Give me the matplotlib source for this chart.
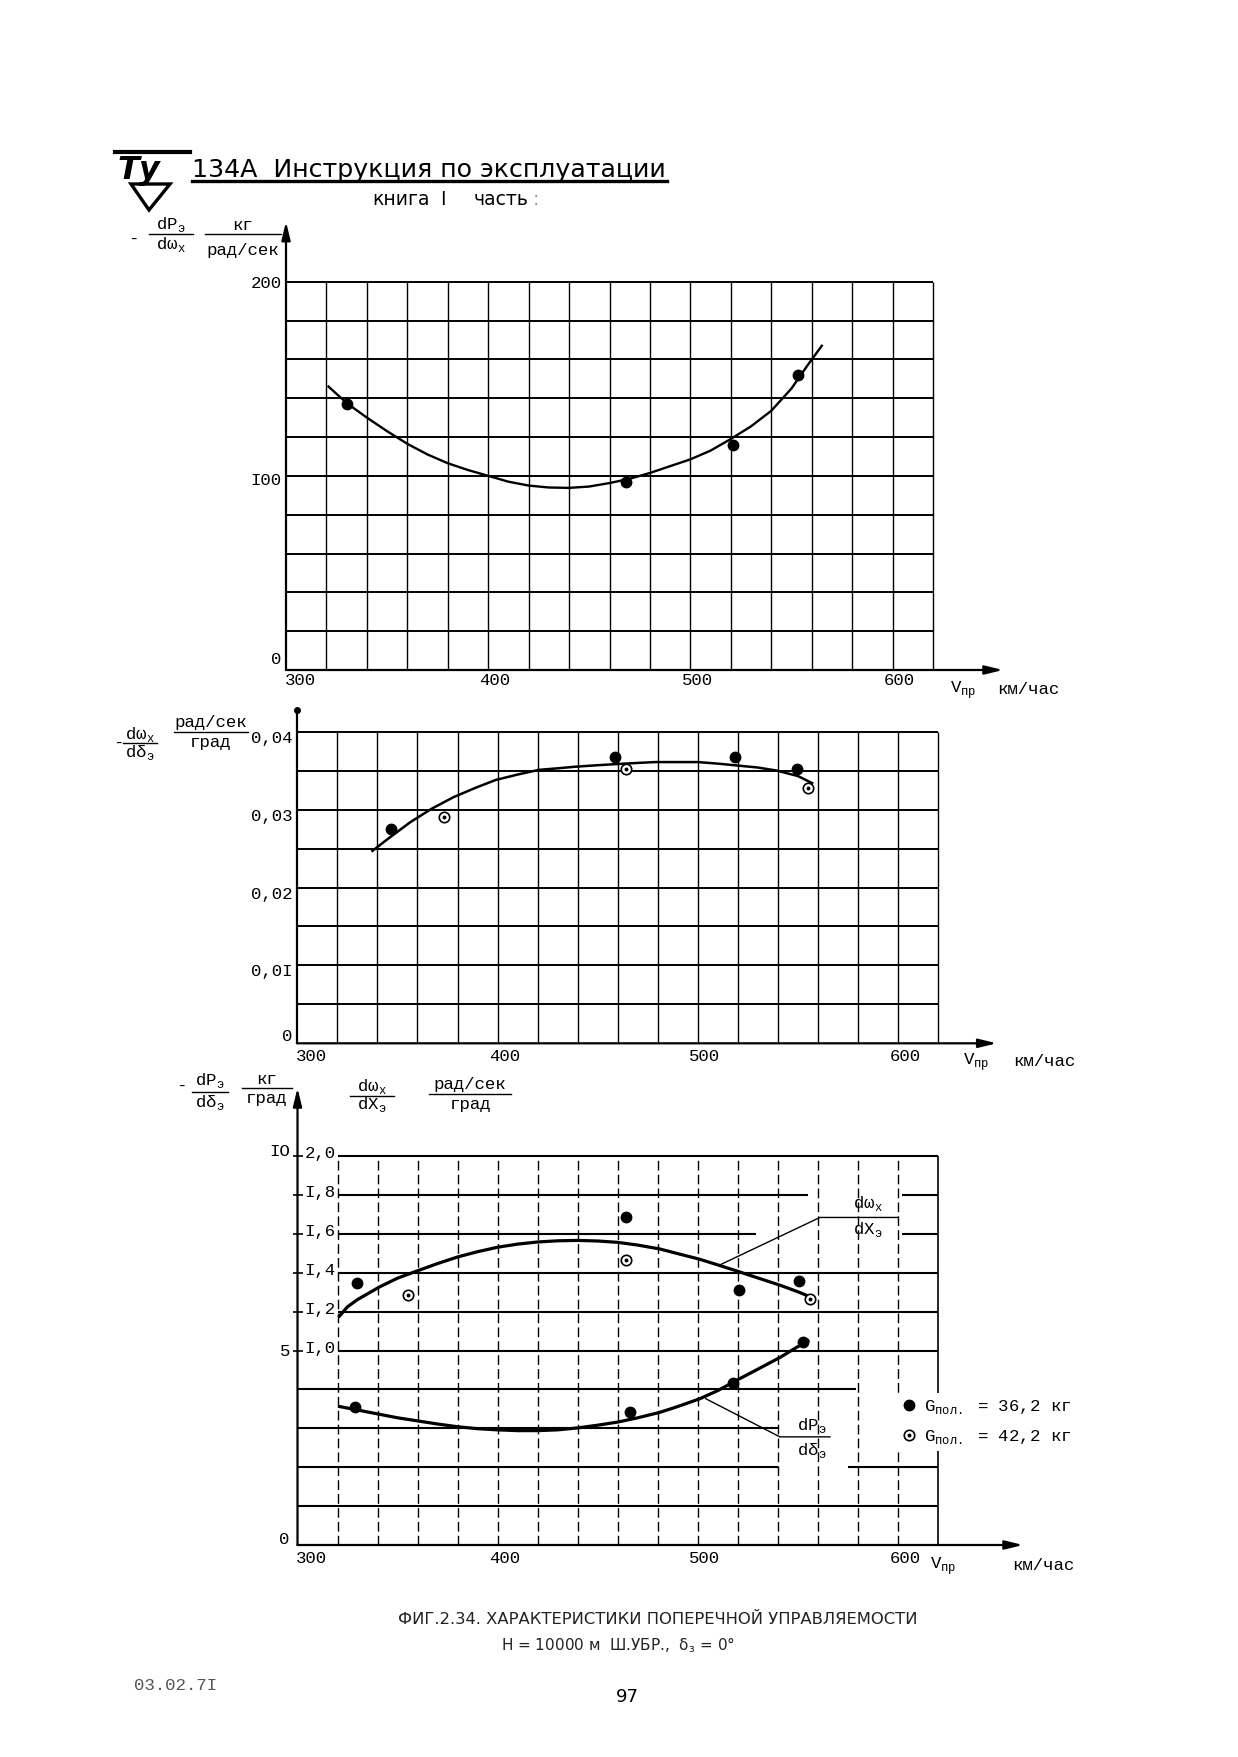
import numpy as np
import matplotlib
matplotlib.use('Agg')
import matplotlib.pyplot as plt
from matplotlib.lines import Line2D
from matplotlib.patches import Polygon
from matplotlib.transforms import ScaledTranslation
from matplotlib.legend_handler import HandlerTuple

W, H = 1238, 1757
MONO = 'Liberation Mono'
SANS = 'DejaVu Sans'

# ---- chart 1: -dPэ/dωx, кг/(рад/сек)
pts1_v = [330, 468, 521, 553]
pts1_y = [137, 97, 116, 152]
fit1_v = [321, 330, 340, 350, 360, 370, 380, 390, 400, 410, 420, 430, 440, 450, 460,
          470, 480, 490, 500, 510, 520, 530, 540, 550, 558, 565]
fit1_y = [146, 137.5, 130, 123, 116.5, 111, 106.5, 103, 100, 97, 95, 94, 93.8, 94.5, 96.3,
          98.5, 101.5, 105, 108.5, 113, 119, 125.5, 133.5, 145, 157, 167]

# ---- chart 2: -dωx/dδэ, (рад/сек)/град
heavy2_v = [347, 458.5, 518.5, 549.5]
heavy2_y = [0.0275, 0.0367, 0.0368, 0.0352]
light2_v = [373, 464, 555]
light2_y = [0.0290, 0.0352, 0.0328]
fit2_v = [337.5, 345, 356.5, 367, 378, 389, 399, 410, 420.5, 430, 438.5, 450, 463, 478.5,
          490, 500, 510, 518, 530, 539.5, 550, 557]
fit2_y = [0.0247, 0.0262, 0.0284, 0.0301, 0.0316, 0.0328, 0.0338, 0.0345, 0.0351, 0.0353,
          0.0355, 0.0357, 0.0359, 0.0361, 0.0361, 0.0361, 0.0359, 0.0357, 0.0354, 0.0350,
          0.0343, 0.0334]

# ---- chart 3: dωx/dXэ (inner scale) and -dPэ/dδэ (outer scale)
heavy3w_v = [329.6, 464, 520.4, 550.6]
heavy3w_y = [1.345, 1.687, 1.313, 1.358]
light3w_v = [355, 464, 556]
light3w_y = [1.283, 1.465, 1.265]
fit3w_v = [321, 325, 330, 341, 350, 360, 370, 380, 390, 400, 410, 420, 430, 440, 450, 460,
           470, 481, 490, 501, 510, 520, 530, 541, 550, 556.6]
fit3w_y = [1.177, 1.225, 1.262, 1.327, 1.372, 1.41, 1.447, 1.481, 1.508, 1.531, 1.547,
           1.558, 1.564, 1.566, 1.563, 1.556, 1.542, 1.522, 1.498, 1.469, 1.44, 1.407,
           1.373, 1.336, 1.302, 1.274]
heavy3p_v = [328.7, 466, 517.4, 552.7]
heavy3p_y = [3.56, 3.41, 4.16, 5.22]
fit3p_v = [321, 330, 340, 350, 360, 370, 380, 390, 400, 410, 420, 430, 440, 450, 460, 470,
           481, 490, 501, 510, 520, 530, 541, 550, 555]
fit3p_y = [3.56, 3.47, 3.37, 3.27, 3.19, 3.11, 3.04, 2.99, 2.96, 2.94, 2.94, 2.96, 3.01,
           3.08, 3.16, 3.27, 3.41, 3.56, 3.76, 3.97, 4.25, 4.52, 4.82, 5.1, 5.25]

x_ticks = [300, 400, 500, 600]
x_labels = ['300', '400', '500', '600']
y1_ticks = [0, 100, 200]
y1_labels = ['0', 'I00', '200']
y2_ticks = [0, 0.01, 0.02, 0.03, 0.04]
y2_labels = ['0', '0,0I', '0,02', '0,03', '0,04']
y3_ticks = [0, 5, 10]
y3_labels = ['0', '5', 'IO']
y3b_ticks = [1.0, 1.2, 1.4, 1.6, 1.8, 2.0]
y3b_labels = ['I,0', 'I,2', 'I,4', 'I,6', 'I,8', '2,0']
legend_labels = ['G$_\\mathregular{пол.}$ = 36,2 кг', 'G$_\\mathregular{пол.}$ = 42,2 кг']

fig = plt.figure(figsize=(W / 100, H / 100), dpi=100)


def fx(x):
    return x / W


def fy(y):
    return 1 - y / H


def add_ax(left, right, top, bottom):
    return fig.add_axes([fx(left), fy(bottom), (right - left) / W, (bottom - top) / H])


def ftext(x, y, s, size=12.5, family=MONO, **kw):
    kw.setdefault('va', 'center')
    kw.setdefault('ha', 'left')
    return fig.text(fx(x), fy(y), s, fontsize=size, family=family, **kw)


def fline(xs, ys, lw=1.0):
    fig.add_artist(Line2D([fx(v) for v in xs], [fy(v) for v in ys], color='k', lw=lw))


def frac(x, ybar, ynum, yden, half, num, den, size=12.5):
    ftext(x, ynum, num, size=size, ha='center')
    ftext(x, yden, den, size=size, ha='center')
    fline([x - half, x + half], [ybar, ybar], lw=1.0)


def shift(label, dx, dy):
    label.set_transform(label.get_transform() +
                        ScaledTranslation(dx / 100, -dy / 100, fig.dpi_scale_trans))


def frame(ax, ymax, xtip, ytip, xpad, top_dot=False):
    ax.set_xlim(300, 620)
    ax.set_ylim(0, ymax)
    ax.set_facecolor('none')
    for s in ax.spines.values():
        s.set_visible(False)
    arrow = dict(arrowstyle='-|>,head_length=0.9,head_width=0.22', lw=1.6, color='k',
                 shrinkA=0, shrinkB=0, mutation_scale=12)
    ax.annotate('', xy=(xtip, 0), xytext=(0, 0), xycoords='axes fraction',
                arrowprops=arrow, annotation_clip=False)
    if top_dot:
        ax.plot([0, 0], [0, ytip], transform=ax.transAxes, color='k', lw=1.6, clip_on=False)
        ax.plot([0], [ytip], transform=ax.transAxes, marker='o', ms=4, color='k', clip_on=False)
    else:
        ax.annotate('', xy=(0, ytip), xytext=(0, 0), xycoords='axes fraction',
                    arrowprops=arrow, annotation_clip=False)
    ax.set_xticks(x_ticks, x_labels, family=MONO)
    ax.tick_params(length=0, labelsize=12.5)
    ax.tick_params(axis='x', pad=xpad)


def place_x_labels(ax):
    labs = ax.get_xticklabels()
    shift(labs[0], 14, 0)
    for lab in labs[1:]:
        shift(lab, 7, 0)


def markers(ax, v, y, hollow=False, ms=7.5):
    if hollow:
        ax.plot(v, y, 'o', ms=ms, mfc='w', mec='k', mew=1.2, clip_on=False, zorder=5)
        ax.plot(v, y, 'o', ms=1.8, color='k', clip_on=False, zorder=6)
    else:
        ax.plot(v, y, 'o', ms=ms, color='k', clip_on=False, zorder=5)


# ================= header =================
ftext(117, 171, 'Ту', size=23, family=SANS, weight='bold', style='italic')
fline([115, 190], [152, 152], lw=3)
fig.add_artist(Polygon([(fx(131), fy(184)), (fx(170), fy(184)), (fx(149), fy(210))],
                       closed=True, fill=False, lw=2.4, ec='k'))
ftext(192, 177, '134А  Инструкция по эксплуатации', size=18.2, family=SANS, va='baseline')
fline([192, 667], [181, 181], lw=2.4)
ftext(372, 205, 'книга', size=13.5, family=SANS, va='baseline')
ftext(440, 205, 'I', size=13.5, family=SANS, va='baseline')
ftext(474, 205, 'часть', size=13.5, family=SANS, va='baseline')
ftext(533, 205, ':', size=13.5, family=SANS, va='baseline', color='#999999')

# ================= chart 1 =================
ax1 = add_ax(286, 933, 281.7, 670)
frame(ax1, 200, (1003 - 286) / 647, 1 + (281.7 - 221.7) / 388.3, xpad=2)
ax1.vlines(np.arange(320, 621, 20), 0, 200, color='k', lw=1.0, clip_on=False)
ax1.hlines(np.arange(20, 201, 20), 300, 620, color='k', lw=1.4, clip_on=False)
ax1.set_yticks(y1_ticks, y1_labels, family=MONO)
ax1.tick_params(axis='y', pad=3)
place_x_labels(ax1)
ax1.plot(fit1_v, fit1_y, color='k', lw=1.7, solid_joinstyle='round')
markers(ax1, pts1_v, pts1_y)
ylabs = ax1.get_yticklabels()
shift(ylabs[0], 0, -12)
shift(ylabs[1], 0, 3)

ftext(128, 239, '-', size=12.5)
frac(171, 234, 224, 245, 22, 'dP$_\\mathregular{э}$', 'dω$_\\mathregular{x}$')
frac(243, 234, 225, 251, 38, 'кг', 'рад/сек')
ftext(950, 690, 'V$_\\mathregular{пр}$', size=12.5)
ftext(997, 690, 'км/час', size=12.5)

# ================= chart 2 =================
ax2 = add_ax(297.3, 938.3, 731.7, 1043.3)
frame(ax2, 0.04, (996.7 - 297.3) / 641, 1 + (731.7 - 710) / 311.6, xpad=4, top_dot=True)
ax2.vlines(np.arange(320, 621, 20), 0, 0.04, color='k', lw=1.0, clip_on=False)
ax2.hlines(np.arange(0.005, 0.0401, 0.005), 300, 620, color='k', lw=1.4, clip_on=False)
ax2.set_yticks(y2_ticks, y2_labels, family=MONO)
ax2.tick_params(axis='y', pad=3.5)
place_x_labels(ax2)
ax2.plot(fit2_v, fit2_y, color='k', lw=1.8, solid_joinstyle='round')
markers(ax2, heavy2_v, heavy2_y)
markers(ax2, light2_v, light2_y, hollow=True)
ylabs = ax2.get_yticklabels()
shift(ylabs[0], 0, -8)
for lab in ylabs[1:]:
    shift(lab, 0, 5)

ftext(113, 743, '-', size=12.5)
frac(140, 743, 734, 753, 17, 'dω$_\\mathregular{x}$', 'dδ$_\\mathregular{э}$')
frac(211, 732, 723, 742, 37, 'рад/сек', 'град')
ftext(963, 1062, 'V$_\\mathregular{пр}$', size=12.5)
ftext(1013, 1062, 'км/час', size=12.5)

# ================= chart 3 =================
ax3 = add_ax(297.5, 938, 1156, 1545)
frame(ax3, 10, (1023 - 297.5) / 640.5, 1 + (1156 - 1088) / 389, xpad=4)
ax3.vlines(np.arange(320, 601, 20), 0, 10, color='k', lw=1.0,
           linestyles=(0, (7, 3)), clip_on=False)
ax3.vlines([620], 0, 10, color='k', lw=1.2, clip_on=False)
grid_rows = {10: [(320, 620)], 9: [(320, 555), (602, 620)], 8: [(320, 529), (602, 620)],
             7: [(320, 620)], 6: [(320, 620)], 5: [(320, 620)], 4: [(300, 579)],
             3: [(300, 540)], 2: [(300, 540), (575, 620)], 1: [(300, 620)]}
for level, segs in grid_rows.items():
    for a, b in segs:
        ax3.hlines(level, a, b, color='k', lw=1.5, clip_on=False)
ax3.set_yticks(y3_ticks, y3_labels, family=MONO)
ax3.tick_params(axis='y', pad=5.5)
place_x_labels(ax3)
ylabs = ax3.get_yticklabels()
shift(ylabs[0], 0, -7)
shift(ylabs[2], 0, -6)

ax3.plot(fit3p_v, fit3p_y, color='k', lw=2.3, solid_joinstyle='round')
markers(ax3, heavy3p_v, heavy3p_y)
ax3.plot([504, 541, 566], [3.76, 2.78, 2.78], color='k', lw=1.0, clip_on=False)
ax3.text(557, 3.07, 'dP$_\\mathregular{э}$', ha='center', va='center', fontsize=12.5, family=MONO)
ax3.text(557, 2.42, 'dδ$_\\mathregular{э}$', ha='center', va='center', fontsize=12.5, family=MONO)

ax3b = ax3.twinx()
ax3b.set_ylim(0, 2)
ax3b.set_facecolor('none')
for s in ax3b.spines.values():
    s.set_visible(False)
ax3b.yaxis.set_ticks_position('left')
ax3b.set_yticks(y3b_ticks, y3b_labels, family=MONO)
ax3b.tick_params(axis='y', direction='inout', length=7, width=1.2, pad=-31, labelsize=12.5)
for lab in ax3b.get_yticklabels():
    shift(lab, 0, -4)
ax3b.plot(fit3w_v, fit3w_y, color='k', lw=2.3, solid_joinstyle='round')
markers(ax3b, heavy3w_v, heavy3w_y)
markers(ax3b, light3w_v, light3w_y, hollow=True)
ax3b.plot([511, 561, 600], [1.44, 1.684, 1.684], color='k', lw=1.0, clip_on=False)
ax3b.text(585, 1.755, 'dω$_\\mathregular{x}$', ha='center', va='center', fontsize=12.5, family=MONO)
ax3b.text(585, 1.62, 'dX$_\\mathregular{э}$', ha='center', va='center', fontsize=12.5, family=MONO)

ftext(176, 1086, '-', size=12.5)
frac(210, 1092, 1081, 1103, 18, 'dP$_\\mathregular{э}$', 'dδ$_\\mathregular{э}$')
frac(267, 1088, 1079, 1098, 25, 'кг', 'град')
frac(372, 1096, 1086, 1105, 22, 'dω$_\\mathregular{x}$', 'dX$_\\mathregular{э}$')
frac(470, 1094, 1085, 1104, 41, 'рад/сек', 'град')
ftext(930, 1566, 'V$_\\mathregular{пр}$', size=12.5)
ftext(1012, 1566, 'км/час', size=12.5)

h_heavy = Line2D([], [], ls='none', marker='o', ms=7.5, color='k')
h_ring = Line2D([], [], ls='none', marker='o', ms=7.5, mfc='w', mec='k', mew=1.2)
h_dot = Line2D([], [], ls='none', marker='o', ms=1.8, color='k')
fig.legend([h_heavy, (h_ring, h_dot)], legend_labels,
           handler_map={tuple: HandlerTuple(ndivide=1, pad=0)},
           loc='upper left', bbox_to_anchor=(fx(888), fy(1384)),
           frameon=True, facecolor='w', edgecolor='none', framealpha=1, fancybox=False,
           borderpad=0.3, handlelength=0.8, handletextpad=0.5, labelspacing=0.7,
           prop={'family': MONO, 'size': 12.5})

# ================= caption =================
ftext(658, 1620, 'ФИГ.2.34. ХАРАКТЕРИСТИКИ ПОПЕРЕЧНОЙ УПРАВЛЯЕМОСТИ', size=11.8,
      family=SANS, ha='center', color='#222222')
ftext(618, 1645, 'Н = 10000 м  Ш.УБР.,  δ$_\\mathregular{з}$ = 0°', size=11,
      family=SANS, ha='center', color='#222222')
ftext(627, 1697, '97', size=13, family=SANS, ha='center')
ftext(134, 1685, '03.02.7I', size=12.5, color='#555555')

fig.savefig('out.png', dpi=100, facecolor='white')
